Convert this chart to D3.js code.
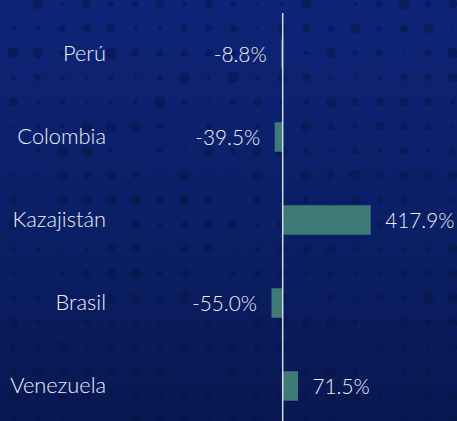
<!DOCTYPE html>
<html>
<head>
<meta charset="utf-8">
<script src="https://cdn.jsdelivr.net/npm/d3@7"></script>
<style>
  html, body { margin: 0; padding: 0; background: #0b1f66; }
  svg { display: block; }
</style>
</head>
<body>
<svg id="chart" width="457" height="421"></svg>
<script>
// ---- data ----
const categories = ["Perú", "Colombia", "Kazajistán", "Brasil", "Venezuela"];
const values = [-8.8, -39.5, 417.9, -55.0, 71.5];
const valueLabels = ["-8.8%", "-39.5%", "417.9%", "-55.0%", "71.5%"];

// ---- layout ----
const W = 457, H = 421;
const zeroX = 283;
const svg = d3.select("#chart");

// background gradient
const defs = svg.append("defs");
const grad = defs.append("linearGradient").attr("id", "bg").attr("x1", 0).attr("y1", 0).attr("x2", 0).attr("y2", 1);
grad.append("stop").attr("offset", "0%").attr("stop-color", "#0e2477");
grad.append("stop").attr("offset", "55%").attr("stop-color", "#0b1f66");
grad.append("stop").attr("offset", "100%").attr("stop-color", "#081852");
svg.append("rect").attr("width", W).attr("height", H).attr("fill", "url(#bg)");

// decorative dot pattern (deterministic)
const dots = svg.append("g");
for (let i = 0; i < 19; i++) {
  for (let j = 0; j < 18; j++) {
    const h = Math.abs(Math.sin(i * 12.9898 + j * 78.233) * 43758.5453) % 1;
    const r = 1.2 + h * 4.6;
    dots.append("circle")
      .attr("cx", 13.5 + i * 24.4)
      .attr("cy", 4 + j * 24.5)
      .attr("r", r)
      .attr("fill", "#061442")
      .attr("opacity", 0.5);
  }
}

// scales
const x = d3.scaleLinear().domain([0, 417.9]).range([zeroX, 370.7]);
const y = d3.scalePoint().domain(categories).range([54, 386]);
const barH = 29.5;

const data = categories.map((c, i) => ({ c, v: values[i], l: valueLabels[i] }));

// bars
svg.append("g").selectAll("rect").data(data).join("rect")
  .attr("x", d => Math.min(x(d.v), x(0)))
  .attr("y", d => y(d.c) - barH / 2)
  .attr("width", d => Math.abs(x(d.v) - x(0)))
  .attr("height", barH)
  .attr("fill", "#3e7a77");

// zero line
svg.append("line")
  .attr("x1", x(0) - 0.3).attr("x2", x(0) - 0.3)
  .attr("y1", 13).attr("y2", H)
  .attr("stroke", "#d4d8e2").attr("stroke-width", 1.5);

const font = "Lato, 'Open Sans', sans-serif";

// category labels
svg.append("g").selectAll("text").data(data).join("text")
  .attr("x", 106)
  .attr("y", d => y(d.c) + 6.5)
  .attr("text-anchor", "end")
  .attr("font-family", font)
  .attr("font-weight", 300)
  .attr("font-size", 21.8)
  .attr("fill", "#eef0f6")
  .text(d => d.c);

// value labels
svg.append("g").selectAll("text").data(data).join("text")
  .attr("x", d => d.v < 0 ? x(d.v) - 14.5 : x(d.v) + 14.5)
  .attr("y", d => y(d.c) + 7.5)
  .attr("text-anchor", d => d.v < 0 ? "end" : "start")
  .attr("font-family", font)
  .attr("font-weight", 300)
  .attr("font-size", 20.8)
  .attr("fill", "#eef0f6")
  .text(d => d.l);
</script>
</body>
</html>
